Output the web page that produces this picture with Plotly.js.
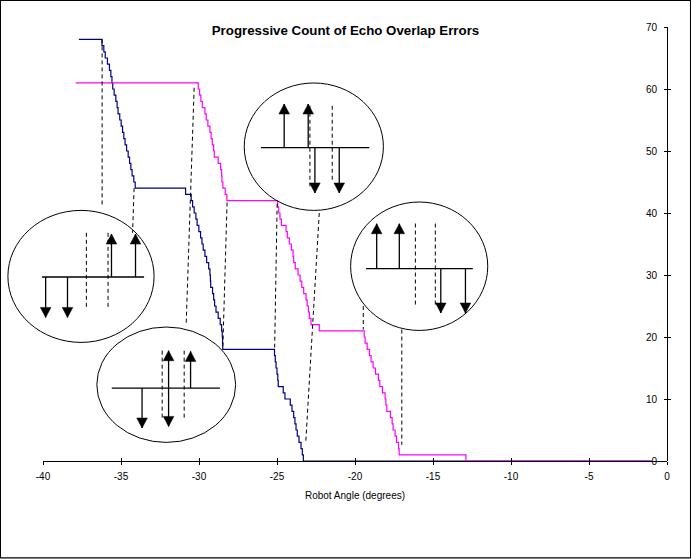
<!DOCTYPE html>
<html>
<head>
<meta charset="utf-8">
<script src="https://cdn.plot.ly/plotly-3.0.1.min.js"></script>
<style>html,body{margin:0;padding:0;background:#fff;}#chart{width:691px;height:559px;}</style>
</head>
<body>
<div id="chart"></div>
<script>
// ---------- data ----------
const chartTitle = "Progressive Count of Echo Overlap Errors";
const xAxisTitle = "Robot Angle (degrees)";
const xTickVals = [-40, -35, -30, -25, -20, -15, -10, -5, 0];
const xTickText = ["-40", "-35", "-30", "-25", "-20", "-15", "-10", "-5", "0"];
const yTickVals = [0, 10, 20, 30, 40, 50, 60, 70];

// series 1 (navy) : angle where each count level begins
const seriesAX = [
  -37.7, -36.22, -36.10, -36.01, -35.87, -35.74, -35.65, -35.58, -35.53, -35.44, -35.33, -35.25, -35.19,
  -35.08, -34.99, -34.90, -34.82, -34.74, -34.64, -34.54, -34.45, -34.37, -34.29, -34.18, -34.09,
  -30.86, -30.50, -30.41, -30.31, -30.20, -30.12, -30.01, -29.90, -29.81, -29.73, -29.62, -29.51, -29.38,
  -29.30, -29.27, -29.25, -29.13, -29.06, -29.00, -28.91, -28.77, -28.64, -28.55, -28.51, -28.49, -28.48,
  -25.16, -25.11, -25.06, -25.00, -24.95, -24.92, -24.60, -24.49, -24.15, -24.04, -23.93, -23.85, -23.78,
  -23.70, -23.59, -23.46, -23.38, -23.31, -1.0
];
const seriesAY = [
  68, 67, 66, 65, 64, 63, 62, 61, 60, 59, 58, 57, 56,
  55, 54, 53, 52, 51, 50, 49, 48, 47, 46, 45, 44,
  43, 42, 41, 40, 39, 38, 37, 36, 35, 34, 33, 32, 31,
  30, 29, 28, 27, 26, 25, 24, 23, 22, 21, 20, 19, 18,
  17, 16, 15, 14, 13, 12, 11, 10, 9, 8, 7, 6, 5,
  4, 3, 2, 1, 0, 0
];
// series 2 (magenta)
const seriesBX = [
  -37.9, -30.05, -29.96, -29.88, -29.79, -29.62, -29.54, -29.43, -29.30, -29.22, -29.15, -29.06, -29.02,
  -28.77, -28.61, -28.55, -28.53, -28.47, -28.32, -28.21,
  -24.96, -24.89, -24.81, -24.72, -24.42, -24.34, -24.21, -24.08, -23.97, -23.93, -23.83, -23.65, -23.52,
  -23.41, -23.29, -23.14, -23.07, -22.99, -22.93, -22.82, -22.29,
  -19.41, -19.35, -19.22, -19.07, -18.97, -18.84, -18.69, -18.50, -18.41, -18.24, -18.07, -18.02, -17.96,
  -17.73, -17.62, -17.56, -17.43, -17.34, -17.21, -17.17,
  -12.89, -0.96
];
const seriesBY = [
  61, 60, 59, 58, 57, 56, 55, 54, 53, 52, 51, 50, 49,
  48, 47, 46, 45, 44, 43, 42,
  41, 40, 39, 38, 37, 36, 35, 34, 33, 32, 31, 30, 29,
  28, 27, 26, 25, 24, 23, 22, 21,
  20, 19, 18, 17, 16, 15, 14, 13, 12, 11, 10, 9, 8,
  7, 6, 5, 4, 3, 2, 1,
  0, 0
];

// ---------- diagram annotations (in data units: degrees, count) ----------
const ellipses = [            // [x0, x1, y0, y1]
  [-27.10, -18.18, 40.42, 60.97],
  [-42.25, -32.88, 19.13, 40.42],
  [-36.55, -27.65, 3.00, 21.61],
  [-20.28, -11.49, 21.06, 41.77]
];
const baselines = [           // [x0, x1, y]
  [-26.03, -19.08, 50.53],
  [-40.06, -33.52, 29.68],
  [-35.59, -28.66, 11.77],
  [-19.29, -12.45, 31.02]
];
const upArrows = [            // [x, yBase, yTip]
  [-24.54, 50.53, 57.58], [-23.00, 50.53, 57.58],
  [-35.61, 29.68, 36.60], [-34.07, 29.68, 36.60],
  [-30.54, 11.77, 17.68], [-31.95, 11.77, 17.79],
  [-18.61, 31.02, 38.27], [-17.16, 31.02, 38.27]
];
const downArrows = [          // [x, yBase, yTip]
  [-22.57, 50.53, 43.23], [-21.01, 50.53, 43.23],
  [-39.83, 29.68, 23.16], [-38.43, 29.68, 23.16],
  [-33.65, 11.77, 5.32], [-31.95, 11.77, 5.58],
  [-14.50, 31.02, 23.87], [-12.92, 31.02, 23.87]
];
const innerDashes = [         // [x, y0, y1]
  [-22.89, 57.3, 44.3], [-21.46, 57.3, 45.0],
  [-37.22, 36.8, 24.6], [-35.83, 36.8, 24.6],
  [-32.36, 17.8, 7.0], [-30.95, 17.8, 6.7],
  [-16.13, 38.3, 24.8], [-14.85, 38.3, 24.8]
];
const connectors = [          // [x0, y0, x1, y1]
  [-36.21, 68.0, -36.21, 41.0],
  [-34.16, 44.0, -34.26, 36.8],
  [-30.31, 60.2, -30.82, 22.3],
  [-28.20, 41.7, -28.47, 18.5],
  [-24.99, 41.5, -25.15, 18.3],
  [-22.29, 40.0, -23.16, 2.9],
  [-19.47, 25.0, -19.47, 21.2],
  [-17.00, 21.2, -17.00, 2.6]
];

// ---------- layout geometry ----------
const W = 691, H = 559;
const ML = 43.3, MR = 24.3, MT = 27.3, MB = 97.7;
const PW = W - ML - MR, PH = H - MT - MB;
const XMIN = -40, XMAX = 0, YMIN = 0, YMAX = 70;
const fx = x => (x - XMIN) / (XMAX - XMIN);   // data -> paper
const fy = y => (y - YMIN) / (YMAX - YMIN);
const dxp = p => p / PW;                       // pixels -> paper
const dyp = p => p / PH;
const FONT = "Liberation Sans, Arial, sans-serif";

const shapes = [];
const blk = '#000';
ellipses.forEach(e => shapes.push({type:'circle', xref:'paper', yref:'paper',
  x0:fx(e[0]), x1:fx(e[1]), y0:fy(e[2]), y1:fy(e[3]), line:{color:blk, width:1}}));
baselines.forEach(b => shapes.push({type:'line', xref:'paper', yref:'paper',
  x0:fx(b[0]), x1:fx(b[1]), y0:fy(b[2]), y1:fy(b[2]), line:{color:blk, width:1.3}}));
function arrow(a, dir) {
  const x = fx(a[0]), yb = fy(a[1]), yt = fy(a[2]);
  shapes.push({type:'line', xref:'paper', yref:'paper', x0:x, x1:x, y0:yb, y1:yt, line:{color:blk, width:1.3}});
  const hw = dxp(5.3), hh = dyp(10) * dir;
  const path = `M${x - hw},${yt - hh} L${x + hw},${yt - hh} L${x},${yt} Z`;
  shapes.push({type:'path', xref:'paper', yref:'paper', path:path, fillcolor:blk, line:{color:blk, width:0.5}});
}
upArrows.forEach(a => arrow(a, 1));
downArrows.forEach(a => arrow(a, -1));
innerDashes.forEach(d => shapes.push({type:'line', xref:'paper', yref:'paper',
  x0:fx(d[0]), x1:fx(d[0]), y0:fy(d[1]), y1:fy(d[2]), line:{color:blk, width:1, dash:'4px,3px'}}));
connectors.forEach(c => shapes.push({type:'line', xref:'paper', yref:'paper',
  x0:fx(c[0]), y0:fy(c[1]), x1:fx(c[2]), y1:fy(c[3]), line:{color:blk, width:1, dash:'4px,3px'}}));
// outer frame
shapes.push({type:'rect', xref:'paper', yref:'paper',
  x0:(0.7 - ML) / PW, x1:(690.3 - ML) / PW,
  y0:(MT + PH - 558.2) / PH, y1:(MT + PH - 0.7) / PH,
  line:{color:blk, width:1.3}, fillcolor:'rgba(0,0,0,0)'});

const traces = [
  {type:'scatter', mode:'lines', x:seriesAX, y:seriesAY, line:{color:'#000080', width:1.2, shape:'hv'},
   showlegend:false, hoverinfo:'x+y'},
  {type:'scatter', mode:'lines', x:seriesBX, y:seriesBY, line:{color:'#FF00FF', width:1.2, shape:'hv'},
   showlegend:false, hoverinfo:'x+y'},
  {type:'scatter', mode:'lines', x:[], y:[], xaxis:'x2', yaxis:'y2', showlegend:false, hoverinfo:'skip'}
];

const tickFont = {family:FONT, size:10, color:'#000'};
const layout = {
  width:W, height:H,
  margin:{l:ML, r:MR, t:MT, b:MB, pad:0},
  paper_bgcolor:'#fff', plot_bgcolor:'#fff',
  showlegend:false,
  title:{text:chartTitle, xref:'container', x:0.5, xanchor:'center', yref:'container', y:1 - 30/H, yanchor:'middle',
         font:{family:FONT, size:13.3, weight:'bold', color:'#000'}},
  xaxis:{range:[XMIN, XMAX], tickvals:xTickVals, ticktext:xTickText, ticks:'outside', ticklen:3, tickwidth:1,
         tickcolor:'#000', showline:true, linecolor:'#000', linewidth:1, showgrid:false, zeroline:false,
         tickfont:tickFont, anchor:'y', ticklabelstandoff:3,
         title:{text:xAxisTitle, font:{family:FONT, size:10, color:'#000'}, standoff:10}},
  yaxis:{range:[YMIN, YMAX], tickvals:yTickVals, ticks:'outside', ticklen:3, tickwidth:1, tickcolor:'#000',
         showline:true, linecolor:'#000', linewidth:1, showgrid:false, zeroline:false,
         tickfont:tickFont, anchor:'free', position:1, side:'left', ticklabelstandoff:5},
  xaxis2:{range:[XMIN, XMAX], tickvals:xTickVals, ticks:'inside', ticklen:3, tickwidth:1, tickcolor:'#000',
          showticklabels:false, showline:false, showgrid:false, zeroline:false, overlaying:'x', anchor:'y2'},
  yaxis2:{range:[YMIN, YMAX], tickvals:yTickVals, ticks:'inside', ticklen:3, tickwidth:1, tickcolor:'#000',
          showticklabels:false, showline:false, showgrid:false, zeroline:false, overlaying:'y',
          anchor:'free', position:1, side:'left'},
  shapes:shapes
};

Plotly.newPlot('chart', traces, layout, {displayModeBar:false, staticPlot:true});
</script>
</body>
</html>
